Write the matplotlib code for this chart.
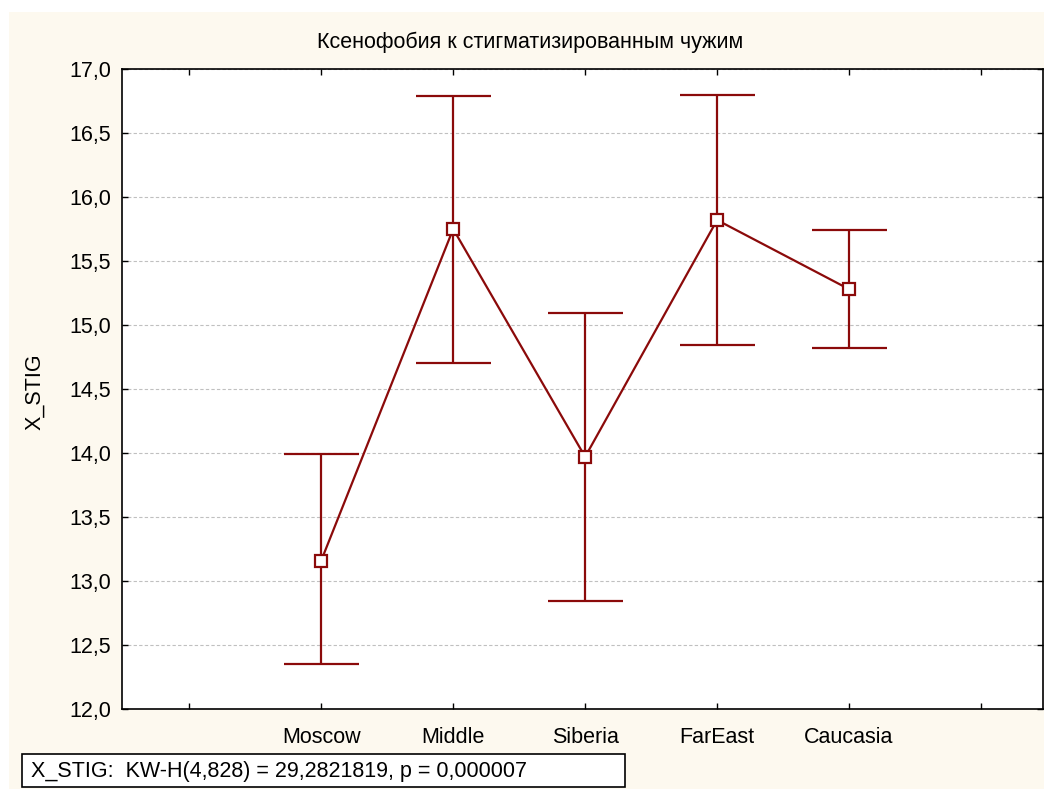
import matplotlib
matplotlib.use('Agg')
import matplotlib.pyplot as plt
import matplotlib.ticker as mticker
from matplotlib.patches import Rectangle
import numpy as np

# data
groups = ['Moscow', 'Middle', 'Siberia', 'FarEast', 'Caucasia']
means = [13.16, 15.75, 13.97, 15.82, 15.28]
upper = [13.99, 16.79, 15.09, 16.80, 15.74]
lower = [12.35, 14.70, 12.84, 14.84, 14.82]
stat_text = 'X_STIG:  KW-H(4,828) = 29,2821819, p = 0,000007'

plt.rcParams['font.family'] = ['Liberation Sans', 'DejaVu Sans']
red = '#8B0A0A'
fs = 15.5

fig = plt.figure(figsize=(10.44, 7.89), dpi=100, facecolor='white')
fig.patches.append(Rectangle((9 / 1044, 0), 1, 1 - 12 / 789, transform=fig.transFigure,
                             facecolor='#FDF9EF', edgecolor='none', zorder=-10))

ax = fig.add_axes([122 / 1044, 1 - 709 / 789, 921 / 1044, 640 / 789])
ax.set_facecolor('white')

x = np.arange(2, 2 + len(groups))
m = np.array(means)
yerr = [m - np.array(lower), np.array(upper) - m]
ax.errorbar(x, m, yerr=yerr, fmt='none', ecolor=red, elinewidth=1.6,
            capsize=27, capthick=1.6, zorder=3)
ax.plot(x, m, color=red, lw=1.6, marker='s', markersize=8,
        markerfacecolor='white', markeredgecolor=red, markeredgewidth=1.6, zorder=4)

ax.set_xlim(0.49, 7.47)
ax.set_ylim(12.0, 17.0)
ax.set_xticks(np.arange(1, 8))
ax.set_xticklabels([''] + groups + [''])
ax.yaxis.set_major_locator(mticker.MultipleLocator(0.5))
ax.yaxis.set_major_formatter(mticker.FuncFormatter(lambda v, p: f'{v:.1f}'.replace('.', ',')))
ax.grid(axis='y', color='#c0c0c0', linestyle=(0, (3, 2)), linewidth=0.8)
ax.tick_params(direction='in', top=True, right=True, length=4, labelsize=fs,
               width=1, colors='black')
ax.tick_params(axis='x', pad=13)
ax.tick_params(axis='y', pad=8)
for s in ax.spines.values():
    s.set_linewidth(1.2)

fig.text(35 / 1044, 1 - 392 / 789, 'X_STIG', rotation=90, ha='center', va='center', fontsize=fs)
fig.text(530 / 1044, 1 - 42 / 789, 'Ксенофобия к стигматизированным чужим',
         ha='center', va='center', fontsize=fs)

fig.text(31 / 1044, 1 - 771 / 789, stat_text, ha='left', va='center', fontsize=fs)
fig.patches.append(Rectangle((22 / 1044, 1 - 787 / 789), 603 / 1044, 33 / 789,
                             transform=fig.transFigure, facecolor='white',
                             edgecolor='black', lw=1.2, zorder=-5))

fig.savefig('out.png', dpi=100, facecolor=fig.get_facecolor())
